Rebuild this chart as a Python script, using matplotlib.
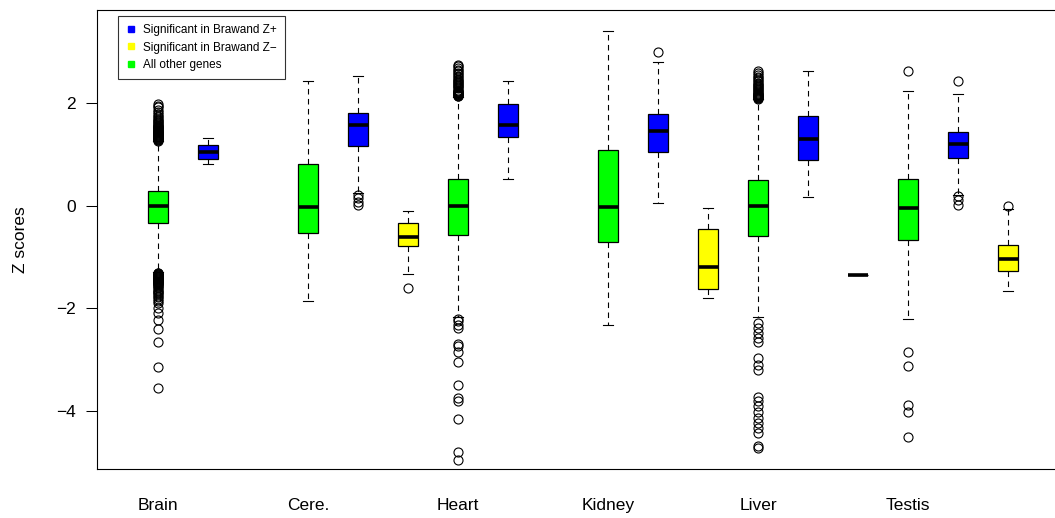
import matplotlib
matplotlib.use("Agg")
import matplotlib.pyplot as plt
from matplotlib.lines import Line2D

plt.rcParams['font.family'] = ['Liberation Sans', 'DejaVu Sans']

tissues = ["Brain", "Cere.", "Heart", "Kidney", "Liver", "Testis"]

# summaries per tissue: lower whisker, Q1, median, Q3, upper whisker
other_stats = [
    [-1.29, -0.34, 0.00, 0.30, 1.26],
    [-1.85, -0.53, -0.03, 0.81, 2.44],
    [-2.16, -0.57, 0.00, 0.52, 2.13],
    [-2.32, -0.70, -0.03, 1.09, 3.41],
    [-2.16, -0.58, -0.01, 0.50, 2.08],
    [-2.21, -0.66, -0.05, 0.52, 2.25],
]
plus_stats = [
    [0.81, 0.92, 1.05, 1.18, 1.33],
    [0.25, 1.16, 1.57, 1.81, 2.53],
    [0.52, 1.34, 1.57, 1.99, 2.44],
    [0.06, 1.05, 1.46, 1.80, 2.81],
    [0.18, 0.90, 1.30, 1.75, 2.63],
    [0.21, 0.94, 1.20, 1.45, 2.18],
]
minus_stats = [
    None,
    [-1.33, -0.79, -0.60, -0.33, -0.09],
    None,
    [-1.79, -1.62, -1.20, -0.45, -0.05],
    [-1.35, -1.35, -1.35, -1.35, -1.35],
    [-1.65, -1.27, -1.03, -0.77, -0.06],
]

# outlying genes
other_out = [
    [1.27, 1.28, 1.29, 1.30, 1.31, 1.32, 1.33, 1.34, 1.35, 1.36, 1.37, 1.38,
     1.39, 1.40, 1.41, 1.42, 1.43, 1.44, 1.45, 1.46, 1.47, 1.48, 1.49, 1.50,
     1.51, 1.52, 1.53, 1.54, 1.55, 1.56, 1.58, 1.60, 1.62, 1.64, 1.66, 1.68,
     1.70, 1.73, 1.76, 1.80, 1.84, 1.88, 1.92, 1.95, 1.98,
     -1.30, -1.31, -1.32, -1.33, -1.34, -1.35, -1.36, -1.37, -1.38, -1.39,
     -1.40, -1.41, -1.42, -1.43, -1.44, -1.45, -1.46, -1.47, -1.48, -1.49,
     -1.50, -1.51, -1.52, -1.53, -1.55, -1.57, -1.59, -1.61, -1.63, -1.65,
     -1.67, -1.69, -1.72, -1.75, -1.78, -1.81, -1.85, -1.90, -1.99, -2.09,
     -2.22, -2.40, -2.65, -3.14, -3.55],
    [],
    [2.14, 2.15, 2.16, 2.17, 2.18, 2.19, 2.20, 2.21, 2.22, 2.23, 2.24, 2.25,
     2.27, 2.29, 2.31, 2.33, 2.35, 2.37, 2.39, 2.41, 2.43, 2.45, 2.48, 2.51,
     2.54, 2.57, 2.60, 2.63, 2.66, 2.69, 2.72, 2.75,
     -2.21, -2.25, -2.32, -2.38, -2.69, -2.74, -2.84, -3.05, -3.50, -3.75,
     -3.80, -4.15, -4.79, -4.95],
    [],
    [2.09, 2.10, 2.11, 2.12, 2.13, 2.14, 2.15, 2.16, 2.17, 2.18, 2.19, 2.20,
     2.22, 2.24, 2.26, 2.28, 2.30, 2.32, 2.34, 2.36, 2.38, 2.40, 2.43, 2.46,
     2.49, 2.52, 2.56, 2.60, 2.64,
     -2.29, -2.38, -2.48, -2.58, -2.66, -2.97, -3.10, -3.20, -3.72, -3.81,
     -3.91, -4.01, -4.14, -4.24, -4.33, -4.43, -4.69, -4.72],
    [2.64, -2.84, -3.13, -3.88, -4.01, -4.50],
]
plus_out = [
    [],
    [0.21, 0.15, 0.08, 0.01],
    [],
    [3.01],
    [],
    [2.44, 0.19, 0.12, 0.02],
]
minus_out = [[], [-1.60], [], [], [], [-0.01]]

green, blue, yellow = "#00ff00", "#0000ff", "#ffff00"


def make_stats(s, out):
    return dict(whislo=s[0], q1=s[1], med=s[2], q3=s[3], whishi=s[4], fliers=out)


stats, pos, cols = [], [], []
for i in range(len(tissues)):
    base = 1 + 3 * i
    stats.append(make_stats(other_stats[i], other_out[i]))
    pos.append(base)
    cols.append(green)
    stats.append(make_stats(plus_stats[i], plus_out[i]))
    pos.append(base + 1)
    cols.append(blue)
    if minus_stats[i] is not None:
        stats.append(make_stats(minus_stats[i], minus_out[i]))
        pos.append(base + 2)
        cols.append(yellow)

fig = plt.figure(figsize=(10.55, 5.18), dpi=100)
ax = fig.add_axes([97 / 1055, 1 - 469 / 518, 1 - 97 / 1055, (469 - 9.5) / 518])

bp = ax.bxp(stats, positions=pos, widths=0.4, patch_artist=True,
            boxprops=dict(edgecolor="black", linewidth=0.9),
            medianprops=dict(color="black", linewidth=2.6, solid_capstyle="butt"),
            whiskerprops=dict(color="black", linewidth=0.8, linestyle=(0, (5, 4))),
            capprops=dict(color="black", linewidth=0.8),
            capwidths=0.2,
            flierprops=dict(marker="o", markersize=6.5, markerfacecolor="none",
                            markeredgecolor="black", markeredgewidth=0.8))
for box, c in zip(bp["boxes"], cols):
    box.set_facecolor(c)

ax.set_xlim(-0.22, 18.94)
ax.set_ylim(-5.13, 3.83)

ax.set_yticks([-4, -2, 0, 2])
ax.set_yticklabels(["\u22124", "\u22122", "0", "2"])
ax.tick_params(axis="y", length=8, width=0.75, pad=7, labelsize=12.5)
ax.set_xticks([1 + 3 * i for i in range(len(tissues))])
ax.set_xticklabels(tissues)
ax.tick_params(axis="x", length=0, pad=21, labelsize=12.5)

ax.set_ylabel("Z scores", fontsize=12.5)
ax.yaxis.set_label_coords(-0.072, 0.5)

for side in ["left", "top", "bottom"]:
    ax.spines[side].set_linewidth(0.8)
ax.spines["right"].set_visible(False)

handles = [
    Line2D([], [], linestyle="none", marker="s", markersize=4.5, color=blue),
    Line2D([], [], linestyle="none", marker="s", markersize=4.5, color=yellow),
    Line2D([], [], linestyle="none", marker="s", markersize=4.5, color=green),
]
labels = ["Significant in Brawand Z+", "Significant in Brawand Z\u2212", "All other genes"]
leg = ax.legend(handles, labels, loc="upper left", bbox_to_anchor=(0.022, 0.986),
                borderaxespad=0, fontsize=8.5, frameon=True, fancybox=False,
                edgecolor="black", handlelength=0.8, handletextpad=0.6,
                labelspacing=0.45, borderpad=0.7)
leg.get_frame().set_linewidth(0.8)

fig.savefig("out.png", dpi=100)
